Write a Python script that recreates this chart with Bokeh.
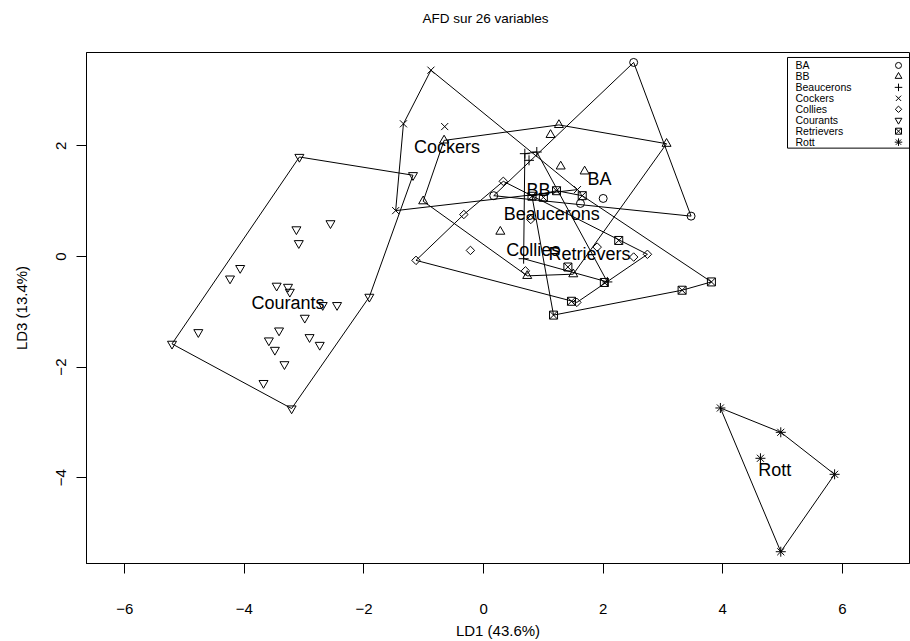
import numpy as np
from bokeh.plotting import figure
from bokeh.models import FixedTicker, Title
from bokeh.embed import file_html
from bokeh.resources import INLINE
from bokeh.core.properties import value

FONT = "Liberation Sans"

# ---------------- data ----------------
groups = ["BA", "BB", "Beaucerons", "Cockers", "Collies", "Courants", "Retrievers", "Rott"]

ba_x = [2.51, 3.47, 0.17, 2.00, 1.62]
ba_y = [3.51, 0.73, 1.10, 1.05, 0.96]

bb_x = [1.26, 1.12, 3.06, 1.29, 1.69, -0.66, -1.01, 0.28, 0.73, 1.50]
bb_y = [2.38, 2.20, 2.04, 1.63, 1.54, 2.10, 1.00, 0.45, -0.35, -0.32]

beau_x = [0.69, 0.89, 0.76, 0.67, 2.07]
beau_y = [1.86, 1.89, 1.74, -0.04, -0.46]

cock_x = [-0.88, -1.34, -0.65, -1.47, 1.57]
cock_y = [3.37, 2.40, 2.35, 0.83, 1.21]

coll_x = [0.33, -0.33, -1.13, -0.22, 0.70, 1.56, 2.74, 1.90, 0.79, 2.51]
coll_y = [1.36, 0.76, -0.07, 0.11, -0.26, -0.83, 0.04, 0.17, 0.67, -0.01]

cour_x = [-3.08, -1.18, -1.91, -3.21, -5.21, -3.13, -2.56, -3.09, -4.07, -4.24,
          -3.46, -3.27, -3.24, -2.69, -2.45, -2.99, -4.77, -3.42, -2.91, -2.74,
          -3.59, -3.49, -3.33, -3.68]
cour_y = [1.80, 1.47, -0.73, -2.75, -1.58, 0.49, 0.60, 0.24, -0.21, -0.40,
          -0.53, -0.55, -0.64, -0.88, -0.88, -1.11, -1.37, -1.34, -1.46, -1.60,
          -1.52, -1.69, -1.95, -2.29]

retr_x = [1.22, 1.65, 0.81, 1.00, 2.26, 1.41, 2.02, 3.32, 3.81, 1.47, 1.17]
retr_y = [1.19, 1.10, 1.09, 1.07, 0.29, -0.19, -0.47, -0.61, -0.46, -0.81, -1.06]

rott_x = [3.96, 4.97, 5.87, 4.97, 4.63]
rott_y = [-2.74, -3.18, -3.94, -5.34, -3.65]

# group label positions (group centres)
label_x = [1.94, 0.92, 1.14, -0.61, 0.83, -3.27, 1.77, 4.87]
label_y = [1.41, 1.21, 0.76, 1.98, 0.11, -0.85, 0.04, -3.86]

x_ticks = [-6, -4, -2, 0, 2, 4, 6]
y_ticks = [-4, -2, 0, 2]

title_text = "AFD sur 26 variables"
x_title = "LD1 (43.6%)"
y_title = "LD3 (13.4%)"

# ---------------- styles ----------------
group_x = [ba_x, bb_x, beau_x, cock_x, coll_x, cour_x, retr_x, rott_x]
group_y = [ba_y, bb_y, beau_y, cock_y, coll_y, cour_y, retr_y, rott_y]
marker_style = [
    dict(marker="circle", size=8),
    dict(marker="triangle", size=9),
    dict(marker="cross", size=10),
    dict(marker="x", size=10),
    dict(marker="square", size=6, angle=np.pi / 4),
    dict(marker="inverted_triangle", size=9),
    dict(marker="square_x", size=8),
    dict(marker="asterisk", size=10),
]


def hull(xs, ys):
    pts = sorted(set(zip(xs, ys)))
    if len(pts) < 3:
        return [q[0] for q in pts], [q[1] for q in pts]

    def cross(o, a, b):
        return (a[0] - o[0]) * (b[1] - o[1]) - (a[1] - o[1]) * (b[0] - o[0])

    lower = []
    for pt in pts:
        while len(lower) >= 2 and cross(lower[-2], lower[-1], pt) <= 0:
            lower.pop()
        lower.append(pt)
    upper = []
    for pt in reversed(pts):
        while len(upper) >= 2 and cross(upper[-2], upper[-1], pt) <= 0:
            upper.pop()
        upper.append(pt)
    h = lower[:-1] + upper[:-1]
    return [q[0] for q in h], [q[1] for q in h]


W, H = 910, 641
BL, BR, BT, BB = 86, 1, 52, 76
FW, FH = W - BL - BR, H - BT - BB
PX_X, PX_Y = 59.8, 55.5          # pixels per data unit
X0 = -6.64
X1 = X0 + FW / PX_X
Y1 = 3.69
Y0 = Y1 - FH / PX_Y

p = figure(width=W, height=H, x_range=(X0, X1), y_range=(Y0, Y1),
           output_backend="svg", toolbar_location=None,
           min_border_left=BL, min_border_right=BR, min_border_top=BT, min_border_bottom=BB,
           title=title_text, x_axis_label=x_title, y_axis_label=y_title)

p.background_fill_color = "white"
p.border_fill_color = "white"
p.outline_line_color = "black"
p.outline_line_width = 1
p.outline_line_alpha = 1
p.grid.visible = False

# spacer between frame and title (pushes the title up)
p.add_layout(Title(text=" ", text_font_size="1px", standoff=24), "above")

p.title.align = "left"
p.title.offset = 336
p.title.standoff = 0
p.title.text_font = FONT
p.title.text_font_style = "normal"
p.title.text_font_size = "13.5px"
p.title.text_color = "black"

for ax in (p.xaxis[0], p.yaxis[0]):
    ax.axis_line_color = "black"
    ax.major_tick_line_color = "black"
    ax.minor_tick_line_color = None
    ax.major_tick_in = 0
    ax.major_tick_out = 10
    ax.major_label_text_font = FONT
    ax.major_label_text_font_size = "15px"
    ax.major_label_text_color = "black"
    ax.axis_label_text_font = FONT
    ax.axis_label_text_font_size = "15px"
    ax.axis_label_text_font_style = "normal"
    ax.axis_label_text_color = "black"

p.xaxis.ticker = FixedTicker(ticks=x_ticks)
p.yaxis.ticker = FixedTicker(ticks=y_ticks)
p.yaxis.major_label_orientation = "vertical"
p.xaxis.major_label_standoff = 30
p.xaxis.axis_label_standoff = 5
p.yaxis.major_label_standoff = 10
p.yaxis.axis_label_standoff = 24


def px2x(px):
    return X0 + (px - BL) / FW * (X1 - X0)


def py2y(py):
    return Y1 - (py - BT) / FH * (Y1 - Y0)


# hulls
for gx, gy in zip(group_x, group_y):
    hx, hy = hull(gx, gy)
    p.patch(hx, hy, fill_color=None, line_color="black", line_width=1)

# points
for gx, gy, st in zip(group_x, group_y, marker_style):
    p.scatter(gx, gy, line_color="black", fill_color=None, line_width=1, **st)

# group labels
p.text(x=label_x, y=label_y, text=groups, text_align="center", text_baseline="middle",
       text_font=value(FONT), text_font_size=value("18px"), text_color="black")

# legend (R style: text left, symbol right)
leg_left, leg_top, leg_bottom = 787, 57, 148
row0, row_step = 65, 11
p.line([X1, px2x(leg_left), px2x(leg_left), X1],
       [py2y(leg_top), py2y(leg_top), py2y(leg_bottom), py2y(leg_bottom)],
       line_color="black", line_width=1)
rows_y = [py2y(row0 + i * row_step) for i in range(len(groups))]
p.text(x=[px2x(795)] * len(groups), y=rows_y, text=groups, text_align="left",
       text_baseline="middle", text_font=value(FONT), text_font_size=value("10.5px"),
       text_color="black")
for i, st in enumerate(marker_style):
    st2 = dict(st)
    st2["size"] = st["size"] * 0.75
    p.scatter([px2x(898)], [rows_y[i]], line_color="black", fill_color=None, line_width=1, **st2)

open("out.html", "w").write(file_html(p, INLINE))
